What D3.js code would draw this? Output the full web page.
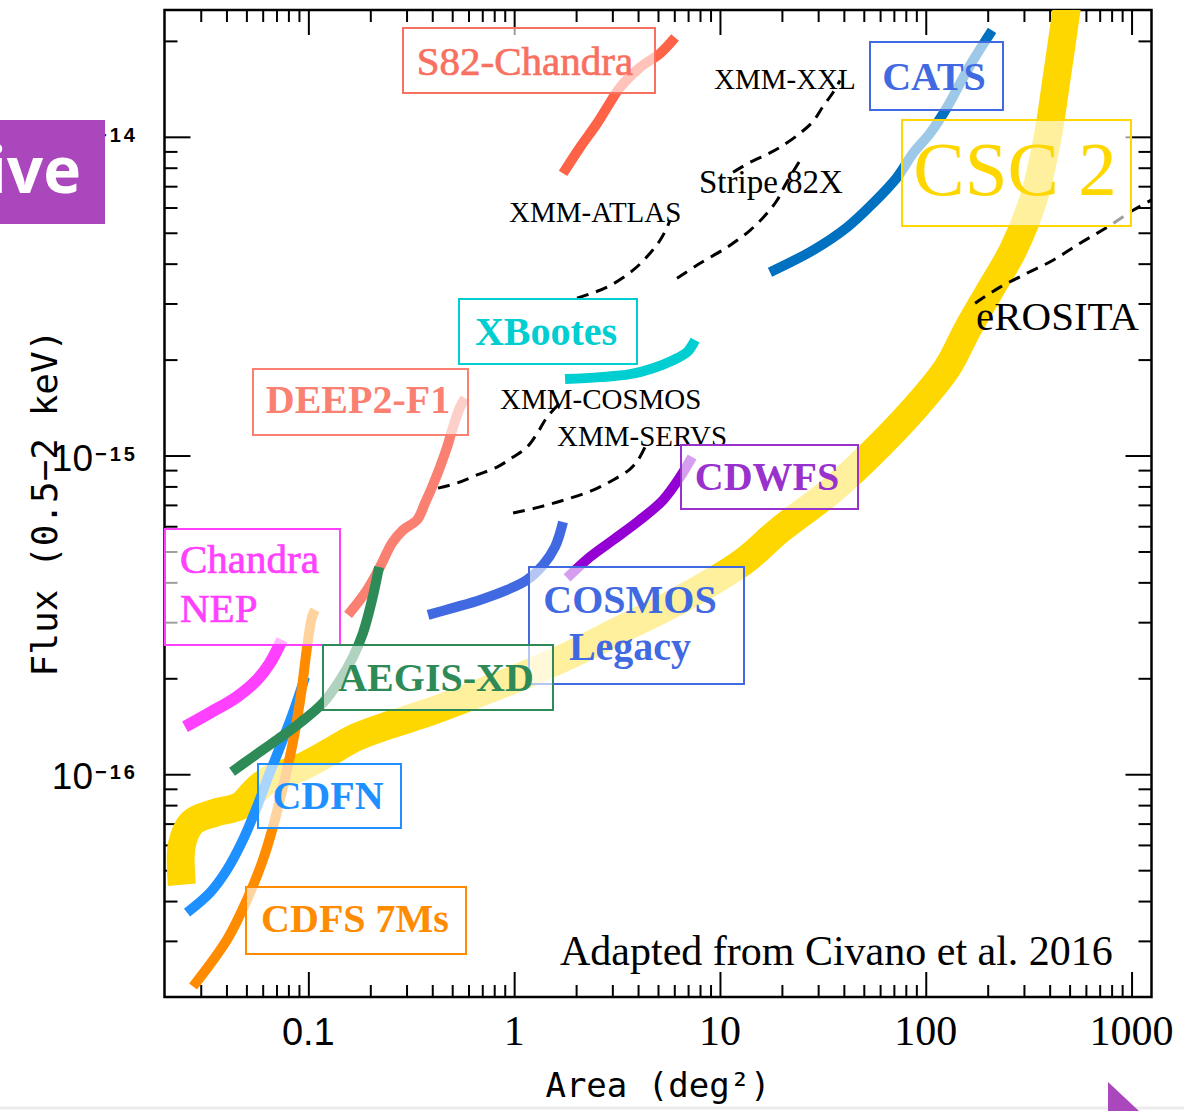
<!DOCTYPE html>
<html><head><meta charset="utf-8">
<script src="https://cdn.jsdelivr.net/npm/d3@7"></script>
<style>body{margin:0;background:#fff} svg{display:block}</style>
</head><body>
<svg id="c" width="1184" height="1111"></svg>
<script>
// ---------- axis ticks ----------
const xTicks = [0.1, 1, 10, 100, 1000];
const xTickLabels = ["0.1", "1", "10", "100", "1000"];
const yTicks = [1e-16, 1e-15, 1e-14];
const yTickExps = ["\u221216", "\u221215", "\u221214"];

// ---------- survey curves: area (deg^2) vs flux limit (erg/s/cm^2, 0.5-2 keV) ----------
const cscArea = [0.0243,0.0243,0.0272,0.0352,0.0466,0.0557,0.0666,0.0911,0.1275,0.1686,0.2495,0.3904,0.6106,1.068,1.869,3.27,6.40,12.95,19.59,34.28,53.6,86.8,126.9,160.6,205.3,265.6,332.2,388.5,434.5,486];
const cscFlux = [4.5e-17,6.01e-17,7.05e-17,7.57e-17,7.96e-17,8.94e-17,9.75e-17,1.048e-16,1.176e-16,1.301e-16,1.429e-16,1.570e-16,1.750e-16,2.021e-16,2.369e-16,2.838e-16,3.524e-16,4.636e-16,5.85e-16,7.7e-16,1.004e-15,1.389e-15,1.88e-15,2.51e-15,3.303e-15,4.407e-15,6.322e-15,9.75e-15,1.559e-14,2.58e-14];

const cdfsArea = [0.02753,0.04027,0.05037,0.06023,0.06737,0.07534,0.0833,0.0881,0.0932,0.0986,0.1042,0.1078];
const cdfsFlux = [2.158e-17,3.029e-17,4.043e-17,5.395e-17,6.846e-17,9.14e-17,1.219e-16,1.482e-16,1.880e-16,2.51e-16,3.118e-16,3.28e-16];

const cdfnArea = [0.02574,0.03329,0.04027,0.04817,0.05632,0.063,0.07286,0.08426,0.0964];
const cdfnFlux = [3.68e-17,4.25e-17,5.018e-17,6.232e-17,7.91e-17,9.61e-17,1.219e-16,1.559e-16,2.021e-16];

const aegisArea = [0.04258,0.05385,0.07046,0.0911,0.1179,0.1426,0.1649,0.1844,0.2039,0.2206];
const aegisFlux = [1.018e-16,1.135e-16,1.283e-16,1.45e-16,1.675e-16,1.977e-16,2.335e-16,2.778e-16,3.524e-16,4.472e-16];

const deep2Area = [0.1559,0.1928,0.2231,0.2551,0.2885,0.3375,0.3692,0.3991,0.4364,0.4721,0.5048,0.5459,0.5773];
const deep2Flux = [3.162e-16,3.788e-16,4.472e-16,5.316e-16,5.84e-16,6.28e-16,7.1e-16,7.96e-16,9.2e-16,1.063e-15,1.228e-15,1.419e-15,1.515e-15];

const nepArea = [0.02517,0.03329,0.04504,0.05632,0.06515,0.0745];
const nepFlux = [1.409e-16,1.559e-16,1.750e-16,1.977e-16,2.236e-16,2.64e-16];

const s82Area = [1.728,2.09,2.528,2.828,3.27,4.09,5.116,6.05];
const s82Flux = [7.68e-15,9.27e-15,1.102e-14,1.237e-14,1.429e-14,1.651e-14,1.827e-14,2.05e-14];

const xbootesArea = [1.767,2.615,3.658,4.73,5.917,6.92,7.57];
const xbootesFlux = [1.737e-15,1.762e-15,1.80e-15,1.880e-15,1.992e-15,2.11e-15,2.302e-15];

const cosmosArea = [0.3817,0.5048,0.6829,0.9237,1.155,1.382,1.580,1.728];
const cosmosFlux = [3.162e-16,3.327e-16,3.524e-16,3.788e-16,4.071e-16,4.536e-16,5.166e-16,6.186e-16];

const cdwfsArea = [1.807,2.338,3.024,4.09,5.29,6.40,7.32];
const cdwfsFlux = [4.13e-16,4.806e-16,5.43e-16,6.28e-16,7.25e-16,8.56e-16,9.89e-16];

const catsArea = [17.51,28.35,41.45,55.45,72.53,86.8,104.9,126.9,146.8,169.8,210.0];
const catsFlux = [3.76e-15,4.407e-15,5.2e-15,6.187e-15,7.465e-15,8.88e-15,1.026e-14,1.237e-14,1.472e-14,1.737e-14,2.158e-14];

// XMM surveys and eROSITA (dashed)
const atlasArea = [2.021,2.828,3.782,4.574,5.116,5.534,5.72];
const atlasFlux = [3.118e-15,3.375e-15,3.815e-15,4.313e-15,4.737e-15,5.2e-15,5.47e-15];

const stripeArea = [6.187,8.004,10.83,14.01,16.93,18.95,20.72,24.5];
const stripeFlux = [3.6e-15,4.012e-15,4.503e-15,5.09e-15,5.756e-15,6.322e-15,7.047e-15,8.44e-15];

const xxlArea = [11.58,14.01,16.93,19.59,24.5,28.35,31.7,35.44,38.33];
const xxlFlux = [7.74e-15,8.32e-15,8.81e-15,9.27e-15,1.026e-14,1.118e-14,1.246e-14,1.378e-14,1.503e-14];

const xcosmosArea = [0.4268,0.528,0.6603,0.826,0.988,1.155,1.306,1.445,1.634];
const xcosmosFlux = [7.9e-16,8.2e-16,8.69e-16,9.2e-16,9.89e-16,1.063e-15,1.185e-15,1.32e-15,1.44e-15];

const servsArea = [0.988,1.336,1.807,2.417,3.024,3.658,4.0,4.325];
const servsFlux = [6.6e-16,6.9e-16,7.3e-16,7.79e-16,8.38e-16,9.07e-16,9.68e-16,1.063e-15];

const erositaArea = [173.7,229.6,310.6,415.4,562,760,1017,1376];
const erositaFlux = [3.005e-15,3.375e-15,3.734e-15,4.1e-15,4.636e-15,5.2e-15,5.88e-15,6.55e-15];

// ---------- build ----------
const svg = d3.select("#c");
const X0 = 164.5, X1 = 1151.5, Y0 = 997, Y1 = 10;
const x = d3.scaleLog().domain([0.02, 1250]).range([X0, X1]);
const y = d3.scaleLog().domain([2e-17, 2.5e-14]).range([Y0, Y1]);

const SERIF = "'Liberation Serif','Times New Roman',serif";
const SANS = "'Liberation Sans',Arial,sans-serif";
const MONO = "'DejaVu Sans Mono',monospace";

function minors(lo, hi) {
  const out = [];
  for (let e = Math.floor(Math.log10(lo)); e <= Math.ceil(Math.log10(hi)); e++) {
    for (let m = 2; m <= 9; m++) {
      const v = +(m * Math.pow(10, e)).toPrecision(6);
      if (v > lo * 1.0001 && v < hi * 0.9999) out.push(v);
    }
  }
  return out;
}
const xMin = minors(0.02, 1250), yMin = minors(2e-17, 2.5e-14);

function styleAxis(g) {
  g.select(".domain").remove();
  g.selectAll(".tick line").attr("stroke", "#000").attr("stroke-width", 2);
  g.selectAll(".tick text").remove();
}
const axes = svg.append("g");
[[d3.axisBottom, Y0], [d3.axisTop, Y1]].forEach(([ax, yy]) => {
  axes.append("g").attr("transform", `translate(0,${yy})`).call(ax(x).tickValues(xTicks).tickSize(-25)).call(styleAxis);
  axes.append("g").attr("transform", `translate(0,${yy})`).call(ax(x).tickValues(xMin).tickSize(-12)).call(styleAxis);
});
[[d3.axisLeft, X0], [d3.axisRight, X1]].forEach(([ax, xx]) => {
  axes.append("g").attr("transform", `translate(${xx},0)`).call(ax(y).tickValues(yTicks).tickSize(-26)).call(styleAxis);
  axes.append("g").attr("transform", `translate(${xx},0)`).call(ax(y).tickValues(yMin).tickSize(-13)).call(styleAxis);
});
axes.append("rect").attr("x", X0).attr("y", Y1).attr("width", X1 - X0).attr("height", Y0 - Y1)
  .attr("fill", "none").attr("stroke", "#000").attr("stroke-width", 2.5);

// tick labels
xTicks.forEach((t, i) => {
  const isSans = i === 0;
  axes.append("text").attr("x", x(t)).attr("y", 1045).attr("text-anchor", "middle")
    .attr("font-family", isSans ? SANS : SERIF).attr("font-size", isSans ? 38 : 42)
    .attr("fill", "#000").text(xTickLabels[i]);
});
yTicks.forEach((t, i) => {
  axes.append("text").attr("x", 93).attr("y", y(t) + 15).attr("text-anchor", "end")
    .attr("font-family", SANS).attr("font-size", 37).attr("fill", "#000").text("10");
  axes.append("text").attr("x", 95).attr("y", y(t) + 5).attr("text-anchor", "start")
    .attr("font-family", SANS).attr("font-size", 20).attr("font-weight", "bold").attr("letter-spacing", 3)
    .attr("fill", "#000").text(yTickExps[i]);
});
// axis titles
axes.append("text").attr("x", 658).attr("y", 1097).attr("text-anchor", "middle")
  .attr("font-family", MONO).attr("font-size", 34).attr("fill", "#000").text("Area (deg\u00B2)");
axes.append("text").attr("transform", "translate(57,503) rotate(-90)").attr("text-anchor", "middle")
  .attr("font-family", MONO).attr("font-size", 36).attr("fill", "#000").text("Flux (0.5\u22122 keV)");

// curves
svg.append("clipPath").attr("id", "clip").append("rect")
  .attr("x", X0).attr("y", Y1).attr("width", X1 - X0).attr("height", Y0 - Y1);
const plot = svg.append("g").attr("clip-path", "url(#clip)");
const line = d3.line().x(d => x(d[0])).y(d => y(d[1])).curve(d3.curveCatmullRom.alpha(0.5));
const zip = (a, f) => a.map((v, i) => [v, f[i]]);

const DASH = "12,8";
const series = [
  { a: cscArea, f: cscFlux, color: "#FFD700", w: 28 },
  { a: cdfnArea, f: cdfnFlux, color: "#1E90FF", w: 10 },
  { a: cdfsArea, f: cdfsFlux, color: "#FF8C00", w: 10 },
  { a: deep2Area, f: deep2Flux, color: "#FA8072", w: 10 },
  { a: aegisArea, f: aegisFlux, color: "#2E8B57", w: 10 },
  { a: nepArea, f: nepFlux, color: "#FF40FF", w: 12 },
  { a: cosmosArea, f: cosmosFlux, color: "#4169E1", w: 10 },
  { a: cdwfsArea, f: cdwfsFlux, color: "#9400D3", w: 10 },
  { a: xbootesArea, f: xbootesFlux, color: "#00CED1", w: 10 },
  { a: s82Area, f: s82Flux, color: "#FF6347", w: 10 },
  { a: catsArea, f: catsFlux, color: "#0070C0", w: 10 },
  { a: atlasArea, f: atlasFlux, color: "#000", w: 3, dash: DASH },
  { a: stripeArea, f: stripeFlux, color: "#000", w: 3, dash: DASH },
  { a: xxlArea, f: xxlFlux, color: "#000", w: 3, dash: DASH },
  { a: xcosmosArea, f: xcosmosFlux, color: "#000", w: 3, dash: DASH },
  { a: servsArea, f: servsFlux, color: "#000", w: 3, dash: DASH },
  { a: erositaArea, f: erositaFlux, color: "#000", w: 3, dash: DASH }
];
plot.selectAll("path.s").data(series).join("path").attr("class", "s")
  .attr("d", s => line(zip(s.a, s.f)))
  .attr("fill", "none").attr("stroke", s => s.color).attr("stroke-width", s => s.w)
  .attr("stroke-dasharray", s => s.dash || null).attr("stroke-linecap", "butt").attr("stroke-linejoin", "round");

// plain labels
const plain = [
  ["XMM-XXL", 714, 89, 29], ["Stripe 82X", 699, 193, 33], ["XMM-ATLAS", 509, 222, 29],
  ["eROSITA", 976, 330, 41], ["XMM-COSMOS", 500, 409, 29], ["XMM-SERVS", 557, 446, 29],
  ["Adapted from Civano et al. 2016", 560, 965, 42]
];
plain.forEach(p => svg.append("text").attr("x", p[1]).attr("y", p[2]).attr("font-family", SERIF)
  .attr("font-size", p[3]).attr("fill", "#000").text(p[0]));

// boxed labels
const boxes = [
  { t: ["S82-Chandra"], bx: [403, 28, 252, 65], c: "#F87060", tc: "#F87060", fs: 41, bold: false, thick: true, tx: 525, ty: [75] },
  { t: ["CATS"], bx: [870, 42, 133, 68], c: "#4169E1", tc: "#4169E1", fs: 40, bold: true, tx: 934, ty: [90] },
  { t: ["CSC 2"], bx: [902, 120, 229, 106], c: "#FFD700", tc: "#FFD700", fs: 77, bold: false, tx: 1015, ty: [195] },
  { t: ["XBootes"], bx: [459, 299, 178, 65], c: "#00CED1", tc: "#00CED1", fs: 40, bold: true, tx: 546, ty: [345] },
  { t: ["DEEP2-F1"], bx: [253, 369, 215, 66], c: "#FA8072", tc: "#FA8072", fs: 40, bold: true, tx: 358, ty: [413] },
  { t: ["CDWFS"], bx: [681, 445, 177, 64], c: "#9932CC", tc: "#9932CC", fs: 40, bold: true, tx: 767, ty: [490] },
  { t: ["Chandra", "NEP"], bx: [165, 529, 175, 116], c: "#FF40FF", tc: "#FF40FF", fs: 41, bold: false, thick: true, tx: 180, ty: [573, 622], anchor: "start" },
  { t: ["COSMOS", "Legacy"], bx: [529, 567, 215, 117], c: "#4169E1", tc: "#4169E1", fs: 40, bold: true, tx: 630, ty: [613, 660] },
  { t: ["AEGIS-XD"], bx: [323, 645, 230, 65], c: "#2E8B57", tc: "#2E8B57", fs: 40, bold: true, tx: 436, ty: [691] },
  { t: ["CDFN"], bx: [258, 764, 143, 64], c: "#1E90FF", tc: "#1E90FF", fs: 40, bold: true, tx: 328, ty: [809] },
  { t: ["CDFS 7Ms"], bx: [246, 887, 220, 67], c: "#FF8C00", tc: "#FF8C00", fs: 40, bold: true, tx: 355, ty: [932] }
];
boxes.forEach(b => {
  const g = svg.append("g");
  g.append("rect").attr("x", b.bx[0]).attr("y", b.bx[1]).attr("width", b.bx[2]).attr("height", b.bx[3])
    .attr("fill", "#fff").attr("fill-opacity", 0.62).attr("stroke", b.c).attr("stroke-width", 2);
  b.t.forEach((s, i) => g.append("text").attr("x", b.tx).attr("y", b.ty[i])
    .attr("text-anchor", b.anchor || "middle").attr("font-family", SERIF).attr("font-size", b.fs)
    .attr("font-weight", b.bold ? "bold" : "normal").attr("fill", b.tc)
    .attr("stroke", b.thick ? b.tc : null).attr("stroke-width", b.thick ? 0.7 : null).text(s));
});

// slide overlay elements
svg.append("line").attr("x1", 0).attr("x2", 1184).attr("y1", 1108).attr("y2", 1108).attr("stroke", "#ececec").attr("stroke-width", 3);
svg.append("rect").attr("x", 0).attr("y", 120).attr("width", 105).attr("height", 104).attr("fill", "#AB47BC");
svg.append("text").attr("x", 81).attr("y", 193).attr("text-anchor", "end").attr("font-family", "'Open Sans',sans-serif")
  .attr("font-weight", "bold").attr("font-size", 64).attr("fill", "#fff").text("ive");
svg.append("path").attr("d", "M1108,1082 L1108,1111 L1139,1111 Z").attr("fill", "#AB47BC");
</script>
</body></html>
